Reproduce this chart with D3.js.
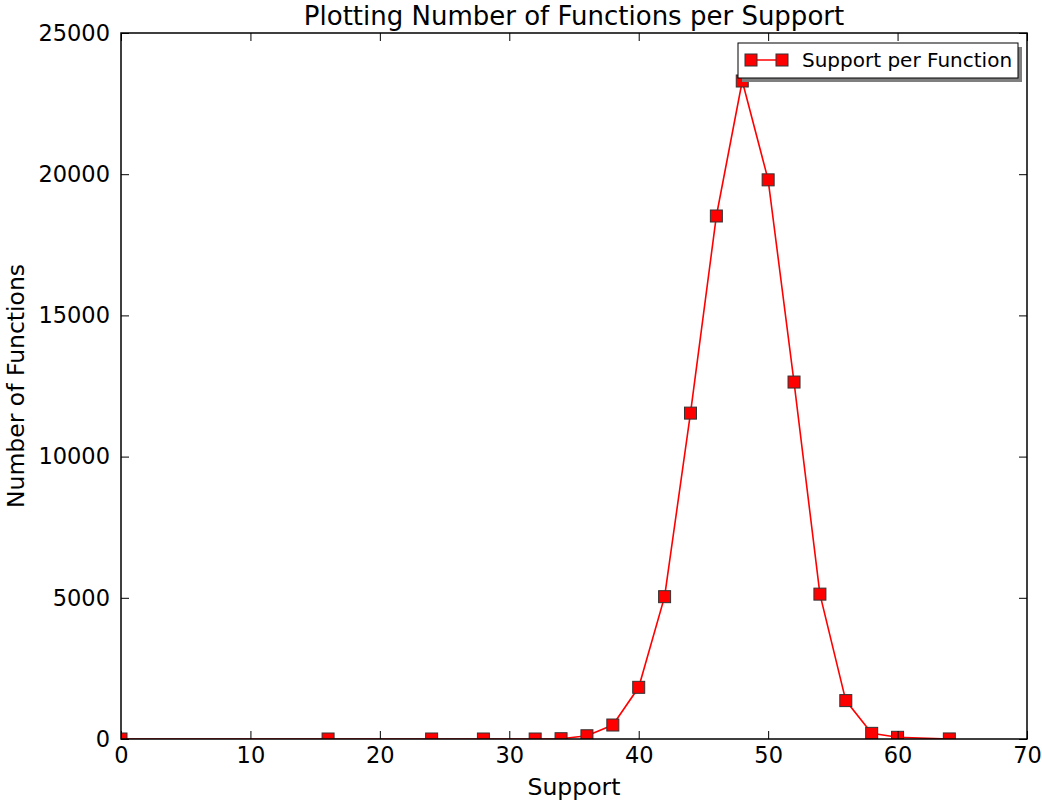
<!DOCTYPE html>
<html>
<head>
<meta charset="utf-8">
<script src="https://cdn.jsdelivr.net/npm/d3@7"></script>
<style>
  body { margin: 0; background: #fff; }
  svg text { font-family: "DejaVu Sans", sans-serif; fill: #000; }
</style>
</head>
<body>
<div id="chart"></div>
<script>
// Data
const support = [0, 16, 24, 28, 32, 34, 36, 38, 40, 42, 44, 46, 48, 50, 52, 54, 56, 58, 60, 64];
const functions = [0, 0, 0, 0, 0, 10, 115, 495, 1830, 5040, 11540, 18520, 23300, 19800, 12640, 5130, 1360, 200, 60, 2];
const xTicks = [0, 10, 20, 30, 40, 50, 60, 70];
const yTicks = [0, 5000, 10000, 15000, 20000, 25000];

const width = 1042, height = 803;
const margin = { top: 33, right: 15, bottom: 64, left: 121 };
const plotW = width - margin.left - margin.right;
const plotH = height - margin.top - margin.bottom;

const svg = d3.select("#chart").append("svg")
    .attr("width", width)
    .attr("height", height);

const x = d3.scaleLinear().domain([0, 70]).range([0, plotW]);
const y = d3.scaleLinear().domain([0, 25000]).range([plotH, 0]);

svg.append("defs").append("clipPath")
    .attr("id", "plot-clip")
    .append("rect")
    .attr("width", plotW)
    .attr("height", plotH);

const g = svg.append("g").attr("transform", `translate(${margin.left},${margin.top})`);

// Line and markers
const data = support.map((s, i) => ({ s, v: functions[i] }));
const plot = g.append("g").attr("clip-path", "url(#plot-clip)");

plot.append("path")
    .datum(data)
    .attr("fill", "none")
    .attr("stroke", "#ff0000")
    .attr("stroke-width", 1.6)
    .attr("d", d3.line().x(d => x(d.s)).y(d => y(d.v)));

const ms = 12;
plot.selectAll("rect.marker")
    .data(data)
    .enter()
    .append("rect")
    .attr("class", "marker")
    .attr("x", d => x(d.s) - ms / 2)
    .attr("y", d => y(d.v) - ms / 2)
    .attr("width", ms)
    .attr("height", ms)
    .attr("fill", "#ff0000")
    .attr("stroke", "#333")
    .attr("stroke-width", 1);

// Axes (matplotlib classic: inward ticks on all sides)
const tickLen = 8;
const fmt = d3.format("d");
g.append("g")
    .attr("transform", `translate(0,${plotH})`)
    .call(d3.axisBottom(x).tickValues(xTicks).tickSizeInner(-tickLen).tickSizeOuter(0).tickPadding(8).tickFormat(fmt))
    .call(a => a.select(".domain").remove());
g.append("g")
    .call(d3.axisTop(x).tickValues(xTicks).tickSizeInner(-tickLen).tickSizeOuter(0).tickFormat(""))
    .call(a => a.select(".domain").remove());
g.append("g")
    .call(d3.axisLeft(y).tickValues(yTicks).tickSizeInner(-tickLen).tickSizeOuter(0).tickPadding(11).tickFormat(fmt))
    .call(a => a.select(".domain").remove());
g.append("g")
    .attr("transform", `translate(${plotW},0)`)
    .call(d3.axisRight(y).tickValues(yTicks).tickSizeInner(-tickLen).tickSizeOuter(0).tickFormat(""))
    .call(a => a.select(".domain").remove());

g.selectAll(".tick line").attr("stroke", "#000").attr("stroke-width", 1);
g.selectAll(".tick text")
    .style("font-family", "'DejaVu Sans', sans-serif")
    .style("font-size", "22.5px")
    .attr("fill", "#000");

g.append("rect")
    .attr("width", plotW)
    .attr("height", plotH)
    .attr("fill", "none")
    .attr("stroke", "#000")
    .attr("stroke-width", 1.5);

// Title and labels
svg.append("text")
    .attr("x", margin.left + plotW / 2)
    .attr("y", 24.5)
    .attr("text-anchor", "middle")
    .style("font-size", "26px")
    .text("Plotting Number of Functions per Support");

svg.append("text")
    .attr("x", margin.left + plotW / 2)
    .attr("y", 795)
    .attr("text-anchor", "middle")
    .style("font-size", "23.5px")
    .text("Support");

svg.append("text")
    .attr("transform", `translate(24,${margin.top + plotH / 2}) rotate(-90)`)
    .attr("text-anchor", "middle")
    .style("font-size", "23.5px")
    .text("Number of Functions");

// Legend
const lg = svg.append("g").attr("transform", "translate(738,43)");
lg.append("rect")
    .attr("x", 4).attr("y", 4)
    .attr("width", 280).attr("height", 35)
    .attr("fill", "#7f7f7f");
lg.append("rect")
    .attr("width", 280).attr("height", 35)
    .attr("fill", "#fff")
    .attr("stroke", "#000")
    .attr("stroke-width", 1);
lg.append("line")
    .attr("x1", 13).attr("x2", 44)
    .attr("y1", 17).attr("y2", 17)
    .attr("stroke", "#ff0000")
    .attr("stroke-width", 1.5);
lg.selectAll("rect.lm")
    .data([13, 44])
    .enter()
    .append("rect")
    .attr("class", "lm")
    .attr("x", d => d - 6).attr("y", 11)
    .attr("width", 12).attr("height", 12)
    .attr("fill", "#ff0000")
    .attr("stroke", "#333");
lg.append("text")
    .attr("x", 64)
    .attr("y", 24)
    .style("font-size", "20px")
    .text("Support per Function");
</script>
</body>
</html>
